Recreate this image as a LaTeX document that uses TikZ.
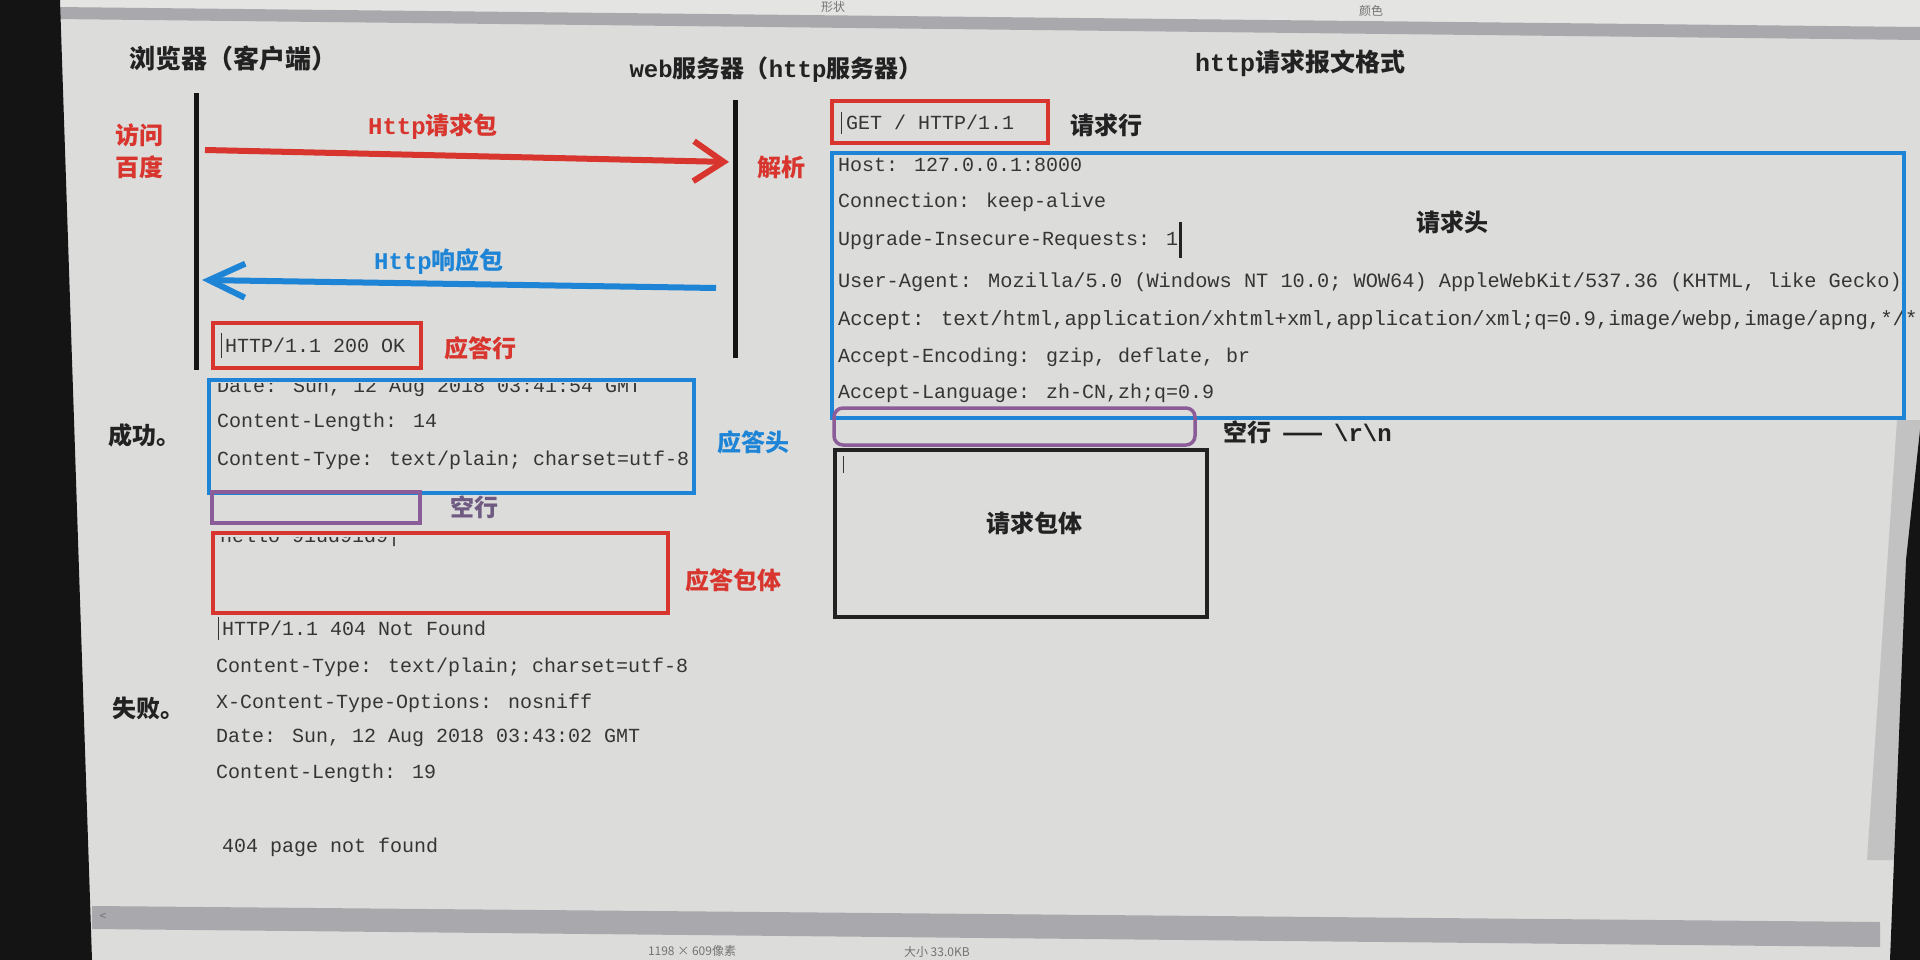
\documentclass[tikz,border=0pt]{standalone}
\usepackage{fontspec}
\newfontfamily\cjk{Noto Sans CJK SC}
\newfontfamily\mono{Liberation Mono}
\usetikzlibrary{arrows.meta}
\definecolor{scr}{HTML}{DCDCDA}
\definecolor{scrtop}{HTML}{E4E4E2}
\definecolor{band}{HTML}{A9A9AD}
\definecolor{rd}{HTML}{D8352E}
\definecolor{bl}{HTML}{1E84D6}
\definecolor{pu}{HTML}{8A5C98}
\definecolor{pugray}{HTML}{6F5B82}
\definecolor{codegray}{HTML}{353535}
\definecolor{headgray}{HTML}{222222}
\definecolor{frame}{HTML}{141414}
\newcommand\mtx[1]{{\mono\bfseries #1}}
\begin{document}
\begin{tikzpicture}[x=1pt,y=-1pt,
  every node/.style={inner sep=0pt, outer sep=0pt},
  code/.style={anchor=west, text=codegray, font=\mono\fontsize{20}{24}\selectfont},
  lab/.style={font=\cjk\bfseries\fontsize{24}{28}\selectfont},
  head/.style={font=\cjk\bfseries\fontsize{26}{30}\selectfont, text=headgray},
  ui/.style={font=\cjk\fontsize{12}{14}\selectfont, text=black!55},
  frm/.style={draw, rectangle, anchor=north west},
  redbox/.style={frm, draw=rd, line width=4pt},
  bluebox/.style={frm, draw=bl, line width=3.5pt},
  purplebox/.style={frm, draw=pu, line width=3.5pt},
  blackbox/.style={frm, draw=headgray, line width=3.5pt},
  lifeline/.style={draw=frame, line width=5pt},
  reqarrow/.style={draw=rd, line width=6pt, -{Straight Barb[length=30pt,width=40pt]}},
  resarrow/.style={draw=bl, line width=6pt, -{Straight Barb[length=36pt,width=34pt]}},
  cursor/.style={draw=codegray, line width=1pt}
]
\useasboundingbox (0,0) rectangle (1920,960);
% screen
\fill[scr] (0,0) rectangle (1920,960);
\fill[scrtop] (0,0) -- (1920,0) -- (1920,30) -- (0,12) -- cycle;
\fill[band] (55,7) -- (1920,27) -- (1920,40) -- (55,19) -- cycle;
\node[ui] (tbshape) at (833,7) {形状};
\node[ui] (tbcolor) at (1371,11) {颜色};
% bottom scrollbar and status
\fill[band] (92,906) -- (1880,922) -- (1880,947) -- (92,929) -- cycle;
\node[ui] (sbleft) at (103,917) {<};
\node[ui, anchor=west] (stsize) at (648,951) {1198 × 609像素};
\node[ui, anchor=west] (stbytes) at (904,952) {大小 33.0KB};
% right edge
\fill[black!24] (1897,420) -- (1920,420) -- (1918,860) -- (1867,860) -- cycle;
\fill[frame] (1920,430) -- (1906,560) -- (1890,960) -- (1920,960) -- cycle;
% left monitor frame
\fill[frame] (0,0) -- (60,0) -- (92,960) -- (0,960) -- cycle;

% headings
\node[head] (hbrowser) at (233,59) {浏览器（客户端）};
\node[head, font=\cjk\bfseries\fontsize{24}{28}\selectfont] (hserver) at (776,70) {\mtx{web}服务器（\mtx{http}服务器）};
\node[head, font=\cjk\bfseries\fontsize{25}{28}\selectfont] (hformat) at (1300,63) {\mtx{http}请求报文格式};

% lifelines
\coordinate (bTop) at (196,93);
\coordinate (bBot) at (196,370);
\coordinate (sTop) at (735,100);
\coordinate (sBot) at (735,358);
\draw[lifeline] (bTop) -- (bBot);
\draw[lifeline] (sTop) -- (sBot);

% request / response arrows
\coordinate (reqS) at (205,150);
\coordinate (reqE) at (729,162);
\coordinate (resS) at (716,288);
\coordinate (resE) at (202,280);
\draw[reqarrow] (reqS) -- (reqE);
\draw[resarrow] (resS) -- (resE);
\node[lab, text=rd] (visit1) at (139,135) {访问};
\node[lab, text=rd] (visit2) at (139,167) {百度};
\node[lab, text=rd] (reqlab) at (433,127) {\mtx{Http}请求包};
\node[lab, text=rd] (parse) at (781,167) {解析};
\node[lab, text=bl] (reslab) at (439,262) {\mtx{Http}响应包};

% ---------- success response ----------
\draw[cursor] (221,333) -- (221,358);
\node[code] (okline) at (225,345) {HTTP/1.1 200 OK};
\begin{scope}
\clip (200,383) rectangle (700,400);
\node[code] (okdate) at (217,388) {Date: Sun, 12 Aug 2018 03:41:54 GMT};
\end{scope}
\node[code] (oklen) at (217,422) {Content-Length: 14};
\node[code] (oktype) at (217,460) {Content-Type: text/plain; charset=utf-8};
\begin{scope}
\clip (200,537) rectangle (700,552);
\node[code] (okbody) at (220,537) {hello 91ud91d9|};
\end{scope}
\node[redbox, minimum width=208pt, minimum height=45pt] (okbox) at (213,323) {};
\node[bluebox, minimum width=485pt, minimum height=113pt] (okhdrbox) at (209,380) {};
\node[purplebox, minimum width=208pt, minimum height=31pt] (okemptybox) at (212,492) {};
\node[redbox, minimum width=455pt, minimum height=80pt] (okbodybox) at (213,533) {};
\node[lab, text=rd] (l-resline) at (480,348) {应答行};
\node[lab, text=bl] (l-reshdr) at (753,442) {应答头};
\node[lab, text=pugray] (l-resempty) at (474,507) {空行};
\node[lab, text=rd] (l-resbody) at (733,580) {应答包体};
\node[lab, text=headgray] (success) at (144,435) {成功。};

% ---------- failure response ----------
\node[lab, text=headgray] (failure) at (148,708) {失败。};
\draw[cursor] (218,617) -- (218,640);
\node[code] (f1) at (222,628) {HTTP/1.1 404 Not Found};
\node[code] (f2) at (216,667) {Content-Type: text/plain; charset=utf-8};
\node[code] (f3) at (216,703) {X-Content-Type-Options: nosniff};
\node[code] (f4) at (216,738) {Date: Sun, 12 Aug 2018 03:43:02 GMT};
\node[code] (f5) at (216,773) {Content-Length: 19};
\node[code] (f6) at (222,847) {404 page not found};

% ---------- request format ----------
\draw[cursor] (841,112) -- (841,134);
\node[code] (getline) at (846,122) {GET / HTTP/1.1};
\begin{scope}
\clip (820,158) rectangle (1915,180);
\node[code] (host) at (838,165) {Host: 127.0.0.1:8000};
\end{scope}
\node[code] (conn) at (838,202) {Connection: keep-alive};
\node[code] (upg) at (838,240) {Upgrade-Insecure-Requests: 1};
\draw[draw=headgray, line width=3pt] (1180,222) -- (1180,258);
\node[code, font=\mono\fontsize{20.3}{24}\selectfont] (ua) at (838,282) {User-Agent: Mozilla/5.0 (Windows NT 10.0; WOW64) AppleWebKit/537.36 (KHTML, like Gecko)};
\begin{scope}
\clip (820,300) rectangle (1914,340);
\node[code, font=\mono\fontsize{20.6}{24}\selectfont] (acc) at (838,320) {Accept: text/html,application/xhtml+xml,application/xml;q=0.9,image/webp,image/apng,*/*};
\end{scope}
\node[code] (accenc) at (838,357) {Accept-Encoding: gzip, deflate, br};
\node[code] (acclang) at (838,393) {Accept-Language: zh-CN,zh;q=0.9};
\node[redbox, minimum width=216pt, minimum height=42pt] (getbox) at (832,101) {};
\node[bluebox, minimum width=1072pt, minimum height=265pt] (reqhdrbox) at (832,153) {};
\node[purplebox, rounded corners=9pt, minimum width=361pt, minimum height=37pt] (reqemptybox) at (834,408) {};
\node[blackbox, minimum width=372pt, minimum height=167pt] (reqbodybox) at (835,450) {};
\draw[cursor] (843,456) -- (843,473);
\node[lab, text=headgray] (l-reqline) at (1106,125) {请求行};
\node[lab, text=headgray] (l-reqhdr) at (1452,222) {请求头};
\node[lab, text=headgray, anchor=west] (l-reqempty) at (1223,432) {空行\ \ ——\ \ \mtx{\textbackslash r\textbackslash n}};
\node[lab, text=headgray] (l-reqbody) at (1034,523) {请求包体};
\end{tikzpicture}
\end{document}
